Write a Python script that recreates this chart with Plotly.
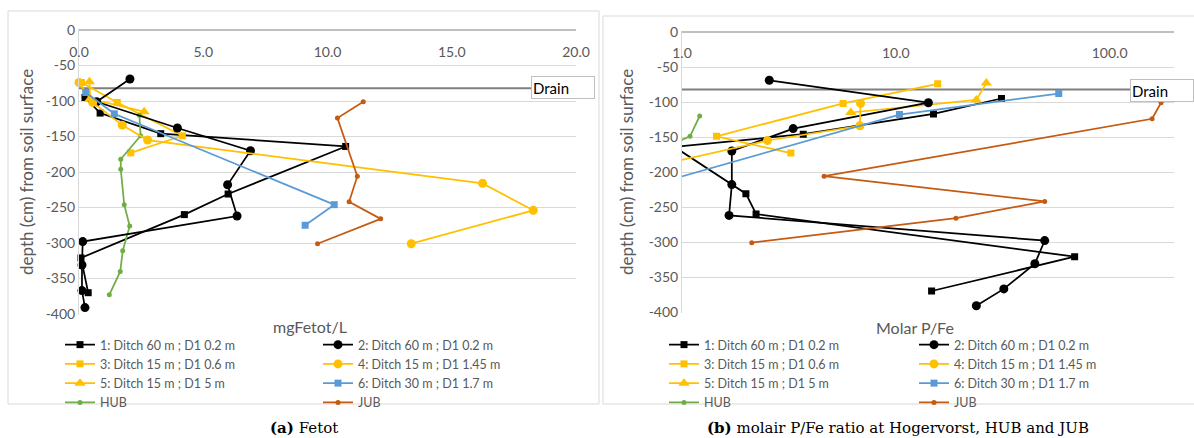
import plotly.graph_objects as go
import math

W, H = 1194, 438

# ---------------- data ----------------
drain_depth = -82

s1_name = "1: Ditch 60 m ; D1 0.2 m"
s1_depth = [-95, -117, -146, -164, -231, -260, -321, -370]
s1_fe = [0.24, 0.85, 3.29, 10.73, 6.0, 4.24, 0.08, 0.37]
s1_pfe = [31.2, 15.0, 3.69, 0.92, 1.99, 2.22, 68.6, 14.7]

s2_name = "2: Ditch 60 m ; D1 0.2 m"
s2_depth = [-69, -101, -138, -170, -218, -262, -298, -331, -367, -391]
s2_fe = [2.05, 0.71, 3.96, 6.9, 5.98, 6.36, 0.15, 0.12, 0.12, 0.24]
s2_pfe = [2.56, 14.2, 3.31, 1.71, 1.71, 1.66, 49.7, 44.7, 32.0, 23.8]

s3_name = "3: Ditch 15 m ; D1 0.6 m"
s3_depth = [-74, -102, -149, -173]
s3_fe = [0.1, 1.54, 4.16, 2.08]
s3_pfe = [15.7, 5.67, 1.45, 3.23]

s4_name = "4: Ditch 15 m ; D1 1.45 m"
s4_depth = [-74, -102, -134, -155, -216, -254, -301]
s4_fe = [0.0, 0.55, 1.74, 2.76, 16.24, 18.28, 13.37]
s4_pfe = [None, 6.84, 6.79, 2.51, 0.33, 0.30, 0.36]

s5_name = "5: Ditch 15 m ; D1 5 m"
s5_depth = [-73, -97, -115]
s5_fe = [0.42, 0.45, 2.62]
s5_pfe = [26.5, 23.8, 6.16]

s6_name = "6: Ditch 30 m ; D1 1.7 m"
s6_depth = [-88, -118, -246, -275]
s6_fe = [0.27, 1.42, 10.27, 9.1]
s6_pfe = [57.8, 10.4, 0.35, 0.33]

hub_name = "HUB"
hub_depth = [-120, -149, -182, -196, -246, -276, -311, -340, -373]
hub_fe = [2.43, 2.48, 1.68, 1.68, 1.82, 2.04, 1.76, 1.66, 1.22]
hub_pfe = [1.21, 1.09, 0.61, 0.55, 0.50, 0.45, 0.50, 0.55, 0.70]

jub_name = "JUB"
jub_depth = [-101, -124, -206, -242, -266, -301]
jub_fe = [11.44, 10.4, 11.2, 10.87, 12.14, 9.6]
jub_pfe = [174, 158, 4.62, 49.7, 19.1, 2.12]

y_ticks = [0, -50, -100, -150, -200, -250, -300, -350, -400]
fe_ticks = [0.0, 5.0, 10.0, 15.0, 20.0]
pfe_ticks = [1.0, 10.0, 100.0]
pfe_ticktext = ["1.0", "10.0", "100.0"]

# ---------------- styling ----------------
FONT = "Lato"
GRAY = "#595959"
GRID = "#D9D9D9"

BLACK = "#000000"
YELLOW = "#FFC000"
BLUE = "#5B9BD5"
GREEN = "#70AD47"
ORANGE = "#C55A11"


def pxx(px):
    return px / W


def pxy(py):
    return 1 - py / H


series = [
    (s1_name, s1_depth, s1_fe, s1_pfe, BLACK, "square", 7, 0),
    (s3_name, s3_depth, s3_fe, s3_pfe, YELLOW, "square", 7, 0),
    (s5_name, s5_depth, s5_fe, s5_pfe, YELLOW, "triangle-up", 10, 0),
    (hub_name, hub_depth, hub_fe, hub_pfe, GREEN, "circle", 5, 0),
    (s2_name, s2_depth, s2_fe, s2_pfe, BLACK, "circle", 9, 1),
    (s4_name, s4_depth, s4_fe, s4_pfe, YELLOW, "circle", 9, 1),
    (s6_name, s6_depth, s6_fe, s6_pfe, BLUE, "square", 7, 1),
    (jub_name, jub_depth, jub_fe, jub_pfe, ORANGE, "circle", 5, 1),
]

fig = go.Figure()

# drain lines
fig.add_trace(go.Scatter(x=[0, 20], y=[drain_depth, drain_depth], mode="lines",
                         line=dict(color="#7F7F7F", width=2), showlegend=False,
                         xaxis="x", yaxis="y", hoverinfo="skip"))
fig.add_trace(go.Scatter(x=[1, 200], y=[drain_depth, drain_depth], mode="lines",
                         line=dict(color="#7F7F7F", width=2), showlegend=False,
                         xaxis="x2", yaxis="y2", hoverinfo="skip"))

for name, depth, fe, pfe, color, sym, size, col in series:
    fig.add_trace(go.Scatter(
        x=fe, y=depth, name=name, mode="lines+markers",
        line=dict(color=color, width=1.75),
        marker=dict(color=color, symbol=sym, size=size, line=dict(width=0)),
        cliponaxis=False, xaxis="x", yaxis="y",
        legend="legend" if col == 0 else "legend2"))

for name, depth, fe, pfe, color, sym, size, col in series:
    fig.add_trace(go.Scatter(
        x=pfe, y=depth, name=name, mode="lines+markers",
        line=dict(color=color, width=1.75),
        marker=dict(color=color, symbol=sym, size=size, line=dict(width=0)),
        connectgaps=False, xaxis="x2", yaxis="y2",
        legend="legend3" if col == 0 else "legend4"))

tickfont = dict(family=FONT, size=14, color=GRAY)

yaxis_common = dict(
    range=[-400.8, 0.8], tickvals=y_ticks, ticktext=[str(v) for v in y_ticks],
    showgrid=True, gridcolor=GRID, gridwidth=1,
    zeroline=True, zerolinecolor="#BFBFBF", zerolinewidth=1.5,
    showline=True, linecolor=GRID, linewidth=1,
    ticks="", tickfont=tickfont, fixedrange=True,
)

ly0, ly1 = 30 - 0.8 * 0.71, 314 + 0.8 * 0.71
ry0, ry1 = 32 - 0.8 * 0.70, 312 + 0.8 * 0.70

legend_common = dict(
    font=dict(family=FONT, size=12.5, color=GRAY), bgcolor="rgba(0,0,0,0)",
    orientation="v", itemwidth=30, tracegroupgap=0, xanchor="left", yanchor="top",
    itemclick=False, itemdoubleclick=False,
)

fig.update_layout(
    width=W, height=H, template="none",
    margin=dict(l=0, r=0, t=0, b=0),
    paper_bgcolor="white", plot_bgcolor="white",
    showlegend=True,
    xaxis=dict(
        domain=[pxx(79), pxx(576)], range=[0, 20], tickvals=fe_ticks,
        ticktext=["%.1f" % v for v in fe_ticks], anchor="free", position=pxy(42),
        side="bottom", showgrid=False, zeroline=False, showline=False, ticks="",
        tickfont=tickfont, fixedrange=True,
    ),
    yaxis=dict(domain=[pxy(ly1), pxy(ly0)], anchor="x", **yaxis_common),
    xaxis2=dict(
        domain=[pxx(682), pxx(1174)], type="log", range=[0, math.log10(200)],
        tickvals=pfe_ticks, ticktext=pfe_ticktext, anchor="free", position=pxy(43),
        side="bottom", showgrid=False, zeroline=False, showline=False, ticks="",
        tickfont=tickfont, fixedrange=True,
    ),
    yaxis2=dict(domain=[pxy(ry1), pxy(ry0)], anchor="x2", **yaxis_common),
    legend=dict(x=pxx(60), y=pxy(330), **legend_common),
    legend2=dict(x=pxx(318), y=pxy(330), **legend_common),
    legend3=dict(x=pxx(664), y=pxy(330), **legend_common),
    legend4=dict(x=pxx(914), y=pxy(330), **legend_common),
)

# chart borders
fig.add_shape(type="rect", xref="paper", yref="paper", x0=pxx(8), x1=pxx(599),
              y0=pxy(404), y1=pxy(11), line=dict(color=GRID, width=1), layer="below")
fig.add_shape(type="rect", xref="paper", yref="paper", x0=pxx(603), x1=pxx(1210),
              y0=pxy(404), y1=pxy(16), line=dict(color=GRID, width=1), layer="below")

ann = []
# Drain labels
ann.append(dict(xref="paper", yref="paper", x=pxx(531), y=pxy(76), xanchor="left", yanchor="top",
                text="Drain", showarrow=False, align="left", width=60, height=19,
                font=dict(family=FONT, size=15, color="#000000"),
                bgcolor="white", bordercolor="#BFBFBF", borderwidth=1, borderpad=1))
ann.append(dict(xref="paper", yref="paper", x=pxx(1130), y=pxy(79), xanchor="left", yanchor="top",
                text="Drain", showarrow=False, align="left", width=60, height=19,
                font=dict(family=FONT, size=15, color="#000000"),
                bgcolor="white", bordercolor="#BFBFBF", borderwidth=1, borderpad=1))
# axis titles
for xc, yc in [(26, 172), (626, 172)]:
    ann.append(dict(xref="paper", yref="paper", x=pxx(xc), y=pxy(yc), text="depth (cm) from soil surface",
                    textangle=-90, showarrow=False, xanchor="center", yanchor="middle",
                    font=dict(family=FONT, size=17, color=GRAY)))
ann.append(dict(xref="paper", yref="paper", x=pxx(310), y=pxy(326), text="mgFetot/L", showarrow=False,
                xanchor="center", yanchor="middle", font=dict(family=FONT, size=16, color=GRAY)))
ann.append(dict(xref="paper", yref="paper", x=pxx(915), y=pxy(327), text="Molar P/Fe", showarrow=False,
                xanchor="center", yanchor="middle", font=dict(family=FONT, size=16, color=GRAY)))
# captions
ann.append(dict(xref="paper", yref="paper", x=pxx(304), y=pxy(428), text="<b>(a)</b> Fetot", showarrow=False,
                xanchor="center", yanchor="middle",
                font=dict(family="DejaVu Serif", size=15, color="#000000")))
ann.append(dict(xref="paper", yref="paper", x=pxx(898), y=pxy(428),
                text="<b>(b)</b> molair P/Fe ratio at Hogervorst, HUB and JUB", showarrow=False,
                xanchor="center", yanchor="middle",
                font=dict(family="DejaVu Serif", size=15, color="#000000")))
fig.update_layout(annotations=ann)

fig.write_html("out.html", config={"displayModeBar": False, "staticPlot": True},
               post_script="document.body.style.margin='0px';document.body.style.padding='0px';")
